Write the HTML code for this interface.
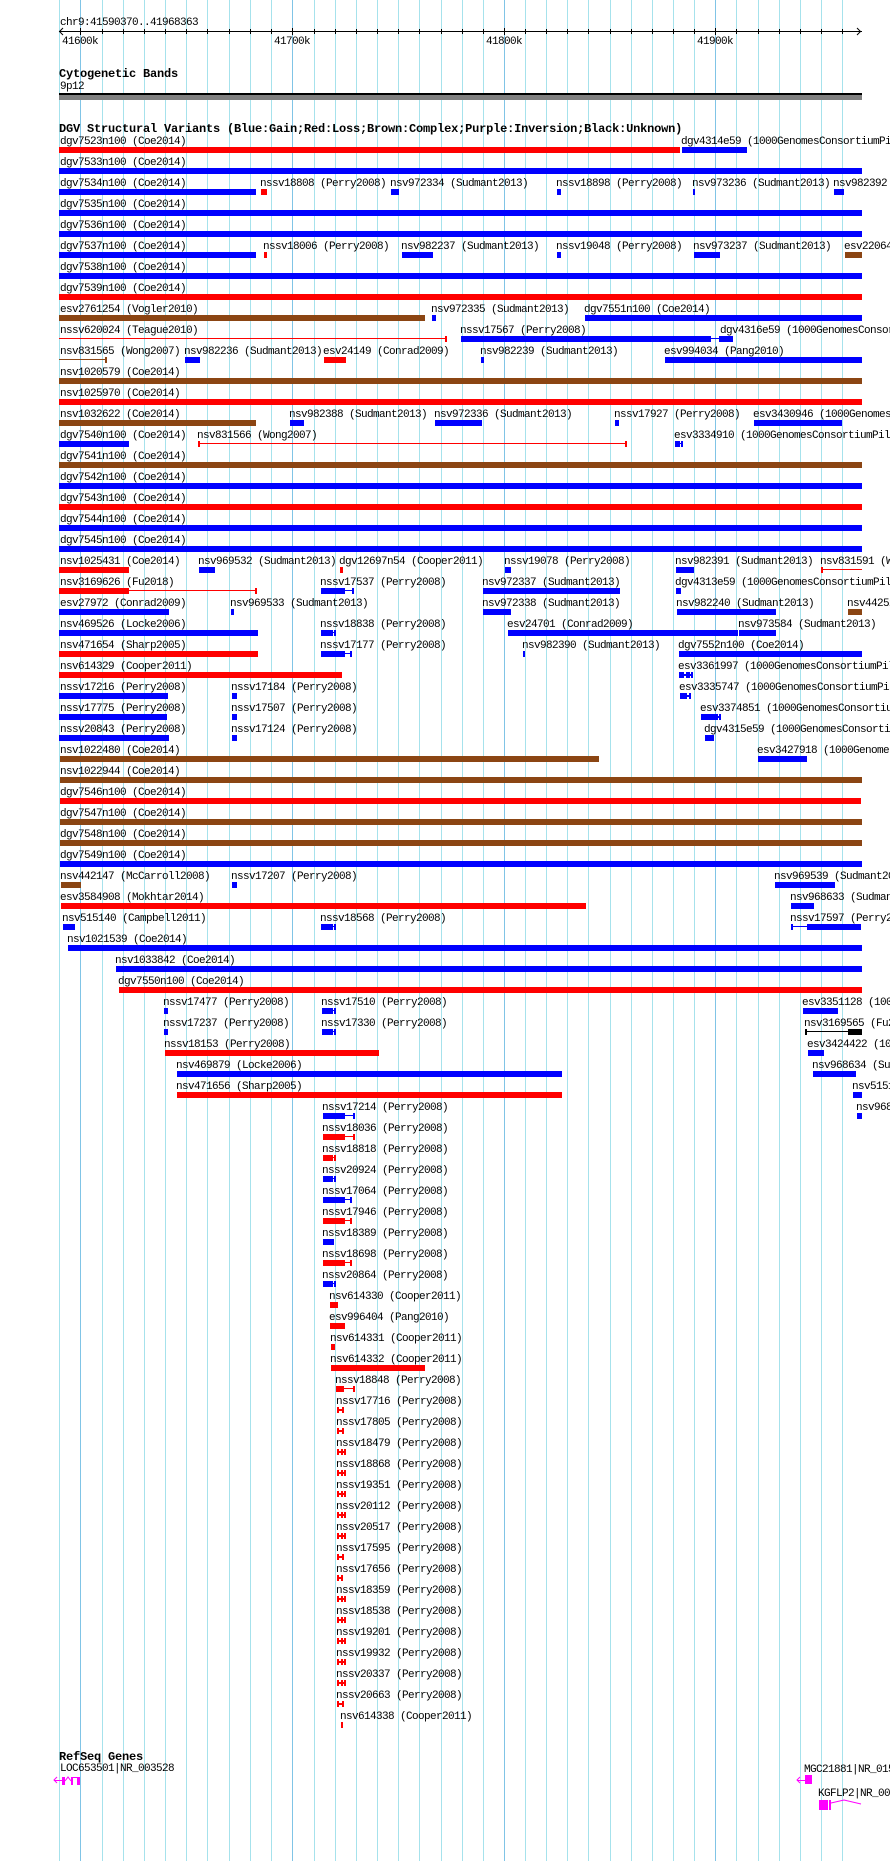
<!DOCTYPE html>
<html><head><meta charset="utf-8"><style>
html,body{margin:0;padding:0;background:#fff;width:890px;height:1861px;overflow:hidden}
svg{position:absolute;left:0;top:0}
text{font-family:"Liberation Mono","DejaVu Sans Mono",monospace;font-size:11px;letter-spacing:-0.6px;fill:#000}
text.t{font-weight:bold;font-size:12px;letter-spacing:-0.2px}
.r{fill:#f00}.b{fill:#00f}.n{fill:#8b4513}.k{fill:#000}.m{fill:#f0f}.gl{fill:#a6e2ec}.gm{fill:#80c4e6}
</style></head><body>
<svg width="890" height="1861" viewBox="0 0 890 1861" xmlns="http://www.w3.org/2000/svg" shape-rendering="crispEdges">
<!-- grid -->
<g class="gl">
<rect x="59" y="0" width="1" height="1861"/><rect x="102" y="0" width="1" height="1861"/><rect x="123" y="0" width="1" height="1861"/><rect x="144" y="0" width="1" height="1861"/><rect x="165" y="0" width="1" height="1861"/><rect x="186" y="0" width="1" height="1861"/><rect x="207" y="0" width="1" height="1861"/><rect x="229" y="0" width="1" height="1861"/><rect x="250" y="0" width="1" height="1861"/><rect x="271" y="0" width="1" height="1861"/>
<rect x="314" y="0" width="1" height="1861"/><rect x="335" y="0" width="1" height="1861"/><rect x="356" y="0" width="1" height="1861"/><rect x="377" y="0" width="1" height="1861"/><rect x="398" y="0" width="1" height="1861"/><rect x="419" y="0" width="1" height="1861"/><rect x="441" y="0" width="1" height="1861"/><rect x="462" y="0" width="1" height="1861"/><rect x="483" y="0" width="1" height="1861"/>
<rect x="525" y="0" width="1" height="1861"/><rect x="546" y="0" width="1" height="1861"/><rect x="567" y="0" width="1" height="1861"/><rect x="588" y="0" width="1" height="1861"/><rect x="610" y="0" width="1" height="1861"/><rect x="631" y="0" width="1" height="1861"/><rect x="652" y="0" width="1" height="1861"/><rect x="673" y="0" width="1" height="1861"/><rect x="694" y="0" width="1" height="1861"/>
<rect x="736" y="0" width="1" height="1861"/><rect x="758" y="0" width="1" height="1861"/><rect x="779" y="0" width="1" height="1861"/><rect x="800" y="0" width="1" height="1861"/><rect x="821" y="0" width="1" height="1861"/><rect x="842" y="0" width="1" height="1861"/>
</g>
<g class="gm">
<rect x="80" y="0" width="1" height="1861"/><rect x="292" y="0" width="1" height="1861"/><rect x="504" y="0" width="1" height="1861"/><rect x="715" y="0" width="1" height="1861"/>
</g>

<!-- ruler -->
<text x="60" y="25">chr9:41590370..41968363</text>
<rect class="k" x="59" y="31" width="803" height="1"/>
<g class="k">
<rect x="102" y="29" width="1" height="5"/><rect x="123" y="29" width="1" height="5"/><rect x="144" y="29" width="1" height="5"/><rect x="165" y="29" width="1" height="5"/><rect x="186" y="29" width="1" height="5"/><rect x="207" y="29" width="1" height="5"/><rect x="229" y="29" width="1" height="5"/><rect x="250" y="29" width="1" height="5"/><rect x="271" y="29" width="1" height="5"/>
<rect x="314" y="29" width="1" height="5"/><rect x="335" y="29" width="1" height="5"/><rect x="356" y="29" width="1" height="5"/><rect x="377" y="29" width="1" height="5"/><rect x="398" y="29" width="1" height="5"/><rect x="419" y="29" width="1" height="5"/><rect x="441" y="29" width="1" height="5"/><rect x="462" y="29" width="1" height="5"/><rect x="483" y="29" width="1" height="5"/>
<rect x="525" y="29" width="1" height="5"/><rect x="546" y="29" width="1" height="5"/><rect x="567" y="29" width="1" height="5"/><rect x="588" y="29" width="1" height="5"/><rect x="610" y="29" width="1" height="5"/><rect x="631" y="29" width="1" height="5"/><rect x="652" y="29" width="1" height="5"/><rect x="673" y="29" width="1" height="5"/><rect x="694" y="29" width="1" height="5"/>
<rect x="736" y="29" width="1" height="5"/><rect x="758" y="29" width="1" height="5"/><rect x="779" y="29" width="1" height="5"/><rect x="800" y="29" width="1" height="5"/><rect x="821" y="29" width="1" height="5"/><rect x="842" y="29" width="1" height="5"/>
<rect x="80" y="28" width="1" height="7"/><rect x="292" y="28" width="1" height="7"/><rect x="504" y="28" width="1" height="7"/><rect x="715" y="28" width="1" height="7"/>
</g>
<polyline points="63,28 59.5,31.5 63,35" fill="none" stroke="#000" stroke-width="1" shape-rendering="auto"/>
<polyline points="857,28 860.5,31.5 857,35" fill="none" stroke="#000" stroke-width="1" shape-rendering="auto"/>
<text x="62" y="44">41600k</text>
<text x="274" y="44">41700k</text>
<text x="486" y="44">41800k</text>
<text x="697" y="44">41900k</text>

<!-- cytoband -->
<text class="t" x="59" y="77">Cytogenetic Bands</text>
<text x="60" y="89">9p12</text>
<rect class="k" x="59" y="93" width="803" height="2"/>
<rect x="59" y="95" width="803" height="5" fill="#808080"/>

<!-- DGV -->
<text class="t" x="59" y="132">DGV Structural Variants (Blue:Gain;Red:Loss;Brown:Complex;Purple:Inversion;Black:Unknown)</text>

<g transform="translate(0,147)">
<rect class="r" x="59" y="0" width="621" height="6"/><rect class="b" x="682" y="0" width="65" height="6"/>
<text x="60" y="-3">dgv7523n100 (Coe2014)</text><text x="681" y="-3">dgv4314e59 (1000GenomesConsortiumPilotProject)</text></g>
<g transform="translate(0,168)">
<rect class="b" x="59" y="0" width="803" height="6"/><text x="60" y="-3">dgv7533n100 (Coe2014)</text></g>
<g transform="translate(0,189)">
<rect class="b" x="59" y="0" width="197" height="6"/><rect class="r" x="261" y="0" width="6" height="6"/><rect class="b" x="391" y="0" width="8" height="6"/><rect class="b" x="557" y="0" width="4" height="6"/><rect class="b" x="693" y="0" width="2" height="6"/><rect class="b" x="834" y="0" width="10" height="6"/>
<text x="60" y="-3">dgv7534n100 (Coe2014)</text><text x="260" y="-3">nssv18808 (Perry2008)</text><text x="390" y="-3">nsv972334 (Sudmant2013)</text><text x="556" y="-3">nssv18898 (Perry2008)</text><text x="692" y="-3">nsv973236 (Sudmant2013)</text><text x="833" y="-3">nsv982392 (Sudmant2013)</text></g>
<g transform="translate(0,210)">
<rect class="b" x="59" y="0" width="803" height="6"/><text x="60" y="-3">dgv7535n100 (Coe2014)</text></g>
<g transform="translate(0,231)">
<rect class="b" x="59" y="0" width="803" height="6"/><text x="60" y="-3">dgv7536n100 (Coe2014)</text></g>
<g transform="translate(0,252)">
<rect class="b" x="59" y="0" width="197" height="6"/><rect class="r" x="264" y="0" width="3" height="6"/><rect class="b" x="402" y="0" width="31" height="6"/><rect class="b" x="557" y="0" width="4" height="6"/><rect class="b" x="694" y="0" width="26" height="6"/><rect class="n" x="845" y="0" width="17" height="6"/>
<text x="60" y="-3">dgv7537n100 (Coe2014)</text><text x="263" y="-3">nssv18006 (Perry2008)</text><text x="401" y="-3">nsv982237 (Sudmant2013)</text><text x="556" y="-3">nssv19048 (Perry2008)</text><text x="693" y="-3">nsv973237 (Sudmant2013)</text><text x="844" y="-3">esv2206460 (Conrad2009)</text></g>
<g transform="translate(0,273)">
<rect class="b" x="59" y="0" width="803" height="6"/><text x="60" y="-3">dgv7538n100 (Coe2014)</text></g>
<g transform="translate(0,294)">
<rect class="r" x="59" y="0" width="803" height="6"/><text x="60" y="-3">dgv7539n100 (Coe2014)</text></g>
<g transform="translate(0,315)">
<rect class="n" x="59" y="0" width="366" height="6"/><rect class="b" x="432" y="0" width="4" height="6"/><rect class="b" x="585" y="0" width="277" height="6"/>
<text x="60" y="-3">esv2761254 (Vogler2010)</text><text x="431" y="-3">nsv972335 (Sudmant2013)</text><text x="584" y="-3">dgv7551n100 (Coe2014)</text></g>
<g transform="translate(0,336)">
<rect class="r" x="59" y="2" width="388" height="1"/><rect class="r" x="445" y="0" width="2" height="6"/><rect class="b" x="461" y="0" width="250" height="6"/><rect class="b" x="711" y="2" width="8" height="1"/><rect class="b" x="719" y="0" width="14" height="6"/>
<text x="60" y="-3">nssv620024 (Teague2010)</text><text x="460" y="-3">nssv17567 (Perry2008)</text><text x="720" y="-3">dgv4316e59 (1000GenomesConsortiumPilotProject)</text></g>
<g transform="translate(0,357)">
<rect class="n" x="59" y="2" width="47" height="1"/><rect class="n" x="105" y="0" width="2" height="6"/><rect class="b" x="185" y="0" width="15" height="6"/><rect class="r" x="324" y="0" width="22" height="6"/><rect class="b" x="481" y="0" width="3" height="6"/><rect class="b" x="665" y="0" width="197" height="6"/>
<text x="60" y="-3">nsv831565 (Wong2007)</text><text x="184" y="-3">nsv982236 (Sudmant2013)</text><text x="323" y="-3">esv24149 (Conrad2009)</text><text x="480" y="-3">nsv982239 (Sudmant2013)</text><text x="664" y="-3">esv994034 (Pang2010)</text></g>
<g transform="translate(0,378)">
<rect class="n" x="59" y="0" width="803" height="6"/><text x="60" y="-3">nsv1020579 (Coe2014)</text></g>
<g transform="translate(0,399)">
<rect class="r" x="59" y="0" width="803" height="6"/><text x="60" y="-3">nsv1025970 (Coe2014)</text></g>
<g transform="translate(0,420)">
<rect class="n" x="59" y="0" width="197" height="6"/><rect class="b" x="290" y="0" width="14" height="6"/><rect class="b" x="435" y="0" width="47" height="6"/><rect class="b" x="615" y="0" width="4" height="6"/><rect class="b" x="754" y="0" width="86" height="6"/><rect class="b" x="840" y="0" width="2" height="6"/>
<text x="60" y="-3">nsv1032622 (Coe2014)</text><text x="289" y="-3">nsv982388 (Sudmant2013)</text><text x="434" y="-3">nsv972336 (Sudmant2013)</text><text x="614" y="-3">nssv17927 (Perry2008)</text><text x="753" y="-3">esv3430946 (1000GenomesConsortiumPilotProject)</text></g>
<g transform="translate(0,441)">
<rect class="b" x="59" y="0" width="70" height="6"/><rect class="r" x="198" y="0" width="2" height="6"/><rect class="r" x="198" y="2" width="428" height="1"/><rect class="r" x="625" y="0" width="2" height="6"/><rect class="b" x="675" y="0" width="5" height="6"/><rect class="b" x="680" y="2" width="1" height="1"/><rect class="b" x="681" y="0" width="2" height="6"/>
<text x="60" y="-3">dgv7540n100 (Coe2014)</text><text x="197" y="-3">nsv831566 (Wong2007)</text><text x="674" y="-3">esv3334910 (1000GenomesConsortiumPilotProject)</text></g>
<g transform="translate(0,462)">
<rect class="n" x="59" y="0" width="803" height="6"/><text x="60" y="-3">dgv7541n100 (Coe2014)</text></g>
<g transform="translate(0,483)">
<rect class="b" x="59" y="0" width="803" height="6"/><text x="60" y="-3">dgv7542n100 (Coe2014)</text></g>
<g transform="translate(0,504)">
<rect class="r" x="59" y="0" width="803" height="6"/><text x="60" y="-3">dgv7543n100 (Coe2014)</text></g>
<g transform="translate(0,525)">
<rect class="b" x="59" y="0" width="803" height="6"/><text x="60" y="-3">dgv7544n100 (Coe2014)</text></g>
<g transform="translate(0,546)">
<rect class="b" x="59" y="0" width="803" height="6"/><text x="60" y="-3">dgv7545n100 (Coe2014)</text></g>
<g transform="translate(0,567)">
<rect class="r" x="59" y="0" width="70" height="6"/><rect class="b" x="199" y="0" width="16" height="6"/><rect class="r" x="340" y="0" width="3" height="6"/><rect class="b" x="505" y="0" width="6" height="6"/><rect class="b" x="676" y="0" width="18" height="6"/><rect class="r" x="821" y="0" width="2" height="6"/><rect class="r" x="821" y="2" width="41" height="1"/>
<text x="60" y="-3">nsv1025431 (Coe2014)</text><text x="198" y="-3">nsv969532 (Sudmant2013)</text><text x="339" y="-3">dgv12697n54 (Cooper2011)</text><text x="504" y="-3">nssv19078 (Perry2008)</text><text x="675" y="-3">nsv982391 (Sudmant2013)</text><text x="820" y="-3">nsv831591 (Wong2007)</text></g>
<g transform="translate(0,588)">
<rect class="r" x="59" y="0" width="70" height="6"/><rect class="r" x="129" y="2" width="127" height="1"/><rect class="r" x="255" y="0" width="2" height="6"/><rect class="b" x="321" y="0" width="24" height="6"/><rect class="b" x="345" y="2" width="9" height="1"/><rect class="b" x="352" y="0" width="2" height="6"/><rect class="b" x="483" y="0" width="137" height="6"/><rect class="b" x="676" y="0" width="5" height="6"/>
<text x="60" y="-3">nsv3169626 (Fu2018)</text><text x="320" y="-3">nssv17537 (Perry2008)</text><text x="482" y="-3">nsv972337 (Sudmant2013)</text><text x="675" y="-3">dgv4313e59 (1000GenomesConsortiumPilotProject)</text></g>
<g transform="translate(0,609)">
<rect class="b" x="59" y="0" width="110" height="6"/><rect class="b" x="231" y="0" width="3" height="6"/><rect class="b" x="483" y="0" width="28" height="6"/><rect class="b" x="677" y="0" width="99" height="6"/><rect class="n" x="848" y="0" width="14" height="6"/>
<text x="60" y="-3">esv27972 (Conrad2009)</text><text x="230" y="-3">nsv969533 (Sudmant2013)</text><text x="482" y="-3">nsv972338 (Sudmant2013)</text><text x="676" y="-3">nsv982240 (Sudmant2013)</text><text x="847" y="-3">nsv442525 (McCarroll2008)</text></g>
<g transform="translate(0,630)">
<rect class="b" x="59" y="0" width="199" height="6"/><rect class="b" x="321" y="0" width="12" height="6"/><rect class="b" x="333" y="2" width="2" height="1"/><rect class="b" x="334" y="0" width="2" height="6"/><rect class="b" x="508" y="0" width="230" height="6"/><rect class="b" x="739" y="0" width="37" height="6"/>
<text x="60" y="-3">nsv469526 (Locke2006)</text><text x="320" y="-3">nssv18838 (Perry2008)</text><text x="507" y="-3">esv24701 (Conrad2009)</text><text x="738" y="-3">nsv973584 (Sudmant2013)</text></g>
<g transform="translate(0,651)">
<rect class="r" x="59" y="0" width="199" height="6"/><rect class="b" x="321" y="0" width="24" height="6"/><rect class="b" x="345" y="2" width="6" height="1"/><rect class="b" x="350" y="0" width="2" height="6"/><rect class="b" x="523" y="0" width="2" height="6"/><rect class="b" x="679" y="0" width="183" height="6"/>
<text x="60" y="-3">nsv471654 (Sharp2005)</text><text x="320" y="-3">nssv17177 (Perry2008)</text><text x="522" y="-3">nsv982390 (Sudmant2013)</text><text x="678" y="-3">dgv7552n100 (Coe2014)</text></g>
<g transform="translate(0,672)">
<rect class="r" x="59" y="0" width="283" height="6"/><rect class="b" x="679" y="0" width="5" height="6"/><rect class="b" x="684" y="2" width="2" height="2"/><rect class="b" x="686" y="0" width="4" height="6"/><rect class="b" x="690" y="2" width="1" height="2"/><rect class="b" x="691" y="0" width="2" height="6"/>
<text x="60" y="-3">nsv614329 (Cooper2011)</text><text x="678" y="-3">esv3361997 (1000GenomesConsortiumPilotProject)</text></g>
<g transform="translate(0,693)">
<rect class="b" x="59" y="0" width="109" height="6"/><rect class="b" x="232" y="0" width="5" height="6"/><rect class="b" x="680" y="0" width="7" height="6"/><rect class="b" x="687" y="2" width="2" height="2"/><rect class="b" x="689" y="0" width="2" height="6"/>
<text x="60" y="-3">nssv17216 (Perry2008)</text><text x="231" y="-3">nssv17184 (Perry2008)</text><text x="679" y="-3">esv3335747 (1000GenomesConsortiumPilotProject)</text></g>
<g transform="translate(0,714)">
<rect class="b" x="59" y="0" width="108" height="6"/><rect class="b" x="232" y="0" width="5" height="6"/><rect class="b" x="701" y="0" width="17" height="6"/><rect class="b" x="718" y="2" width="1" height="2"/><rect class="b" x="719" y="0" width="2" height="6"/>
<text x="60" y="-3">nssv17775 (Perry2008)</text><text x="231" y="-3">nssv17507 (Perry2008)</text><text x="700" y="-3">esv3374851 (1000GenomesConsortiumPilotProject)</text></g>
<g transform="translate(0,735)">
<rect class="b" x="59" y="0" width="110" height="6"/><rect class="b" x="232" y="0" width="5" height="6"/><rect class="b" x="705" y="0" width="9" height="6"/>
<text x="60" y="-3">nssv20843 (Perry2008)</text><text x="231" y="-3">nssv17124 (Perry2008)</text><text x="704" y="-3">dgv4315e59 (1000GenomesConsortiumPilotProject)</text></g>
<g transform="translate(0,756)">
<rect class="n" x="60" y="0" width="539" height="6"/><rect class="b" x="758" y="0" width="47" height="6"/><rect class="b" x="805" y="0" width="2" height="6"/>
<text x="60" y="-3">nsv1022480 (Coe2014)</text><text x="757" y="-3">esv3427918 (1000GenomesConsortiumPilotProject)</text></g>
<g transform="translate(0,777)">
<rect class="n" x="60" y="0" width="802" height="6"/><text x="60" y="-3">nsv1022944 (Coe2014)</text></g>
<g transform="translate(0,798)">
<rect class="r" x="60" y="0" width="801" height="6"/><text x="60" y="-3">dgv7546n100 (Coe2014)</text></g>
<g transform="translate(0,819)">
<rect class="n" x="60" y="0" width="802" height="6"/><text x="60" y="-3">dgv7547n100 (Coe2014)</text></g>
<g transform="translate(0,840)">
<rect class="n" x="60" y="0" width="802" height="6"/><text x="60" y="-3">dgv7548n100 (Coe2014)</text></g>
<g transform="translate(0,861)">
<rect class="b" x="60" y="0" width="802" height="6"/><text x="60" y="-3">dgv7549n100 (Coe2014)</text></g>
<g transform="translate(0,882)">
<rect class="n" x="61" y="0" width="20" height="6"/><rect class="b" x="232" y="0" width="5" height="6"/><rect class="b" x="775" y="0" width="60" height="6"/>
<text x="60" y="-3">nsv442147 (McCarroll2008)</text><text x="231" y="-3">nssv17207 (Perry2008)</text><text x="774" y="-3">nsv969539 (Sudmant2013)</text></g>
<g transform="translate(0,903)">
<rect class="r" x="61" y="0" width="525" height="6"/><rect class="b" x="791" y="0" width="23" height="6"/>
<text x="60" y="-3">esv3584908 (Mokhtar2014)</text><text x="790" y="-3">nsv968633 (Sudmant2013)</text></g>
<g transform="translate(0,924)">
<rect class="b" x="63" y="0" width="12" height="6"/><rect class="b" x="321" y="0" width="12" height="6"/><rect class="b" x="333" y="2" width="2" height="1"/><rect class="b" x="334" y="0" width="2" height="6"/><rect class="b" x="791" y="0" width="2" height="6"/><rect class="b" x="791" y="2" width="16" height="1"/><rect class="b" x="807" y="0" width="54" height="6"/>
<text x="62" y="-3">nsv515140 (Campbell2011)</text><text x="320" y="-3">nssv18568 (Perry2008)</text><text x="790" y="-3">nssv17597 (Perry2008)</text></g>
<g transform="translate(0,945)">
<rect class="b" x="68" y="0" width="794" height="6"/><text x="67" y="-3">nsv1021539 (Coe2014)</text></g>
<g transform="translate(0,966)">
<rect class="b" x="116" y="0" width="746" height="6"/><text x="115" y="-3">nsv1033842 (Coe2014)</text></g>
<g transform="translate(0,987)">
<rect class="r" x="119" y="0" width="743" height="6"/><text x="118" y="-3">dgv7550n100 (Coe2014)</text></g>
<g transform="translate(0,1008)">
<rect class="b" x="164" y="0" width="4" height="6"/><rect class="b" x="322" y="0" width="11" height="6"/><rect class="b" x="333" y="2" width="2" height="1"/><rect class="b" x="334" y="0" width="2" height="6"/><rect class="b" x="803" y="0" width="33" height="6"/><rect class="b" x="836" y="0" width="2" height="6"/>
<text x="163" y="-3">nssv17477 (Perry2008)</text><text x="321" y="-3">nssv17510 (Perry2008)</text><text x="802" y="-3">esv3351128 (1000GenomesConsortiumPilotProject)</text></g>
<g transform="translate(0,1029)">
<rect class="b" x="164" y="0" width="4" height="6"/><rect class="b" x="322" y="0" width="11" height="6"/><rect class="b" x="333" y="2" width="2" height="1"/><rect class="b" x="334" y="0" width="2" height="6"/><rect class="k" x="805" y="0" width="2" height="6"/><rect class="k" x="805" y="2" width="43" height="1"/><rect class="k" x="848" y="0" width="14" height="6"/>
<text x="163" y="-3">nssv17237 (Perry2008)</text><text x="321" y="-3">nssv17330 (Perry2008)</text><text x="804" y="-3">nsv3169565 (Fu2018)</text></g>
<g transform="translate(0,1050)">
<rect class="r" x="165" y="0" width="214" height="6"/><rect class="b" x="808" y="0" width="14" height="6"/><rect class="b" x="822" y="0" width="2" height="6"/>
<text x="164" y="-3">nssv18153 (Perry2008)</text><text x="807" y="-3">esv3424422 (1000GenomesConsortiumPilotProject)</text></g>
<g transform="translate(0,1071)">
<rect class="b" x="177" y="0" width="385" height="6"/><rect class="b" x="813" y="0" width="43" height="6"/>
<text x="176" y="-3">nsv469879 (Locke2006)</text><text x="812" y="-3">nsv968634 (Sudmant2013)</text></g>
<g transform="translate(0,1092)">
<rect class="r" x="177" y="0" width="385" height="6"/><rect class="b" x="853" y="0" width="9" height="6"/>
<text x="176" y="-3">nsv471656 (Sharp2005)</text><text x="852" y="-3">nsv515160 (Campbell2011)</text></g>
<g transform="translate(0,1113)">
<rect class="b" x="323" y="0" width="22" height="6"/><rect class="b" x="345" y="2" width="8" height="1"/><rect class="b" x="353" y="0" width="2" height="6"/><rect class="b" x="857" y="0" width="5" height="6"/>
<text x="322" y="-3">nssv17214 (Perry2008)</text><text x="856" y="-3">nsv968635 (Sudmant2013)</text></g>
<g transform="translate(0,1134)">
<rect class="r" x="323" y="0" width="22" height="6"/><rect class="r" x="345" y="2" width="8" height="1"/><rect class="r" x="353" y="0" width="2" height="6"/>
<text x="322" y="-3">nssv18036 (Perry2008)</text></g>
<g transform="translate(0,1155)">
<rect class="r" x="323" y="0" width="10" height="6"/><rect class="r" x="333" y="2" width="1" height="1"/><rect class="r" x="334" y="0" width="2" height="6"/>
<text x="322" y="-3">nssv18818 (Perry2008)</text></g>
<g transform="translate(0,1176)">
<rect class="b" x="323" y="0" width="10" height="6"/><rect class="b" x="333" y="2" width="1" height="1"/><rect class="b" x="334" y="0" width="2" height="6"/>
<text x="322" y="-3">nssv20924 (Perry2008)</text></g>
<g transform="translate(0,1197)">
<rect class="b" x="323" y="0" width="22" height="6"/><rect class="b" x="345" y="2" width="5" height="1"/><rect class="b" x="350" y="0" width="2" height="6"/>
<text x="322" y="-3">nssv17064 (Perry2008)</text></g>
<g transform="translate(0,1218)">
<rect class="r" x="323" y="0" width="22" height="6"/><rect class="r" x="345" y="2" width="5" height="1"/><rect class="r" x="350" y="0" width="2" height="6"/>
<text x="322" y="-3">nssv17946 (Perry2008)</text></g>
<g transform="translate(0,1239)">
<rect class="b" x="323" y="0" width="11" height="6"/>
<text x="322" y="-3">nssv18389 (Perry2008)</text></g>
<g transform="translate(0,1260)">
<rect class="r" x="323" y="0" width="22" height="6"/><rect class="r" x="345" y="2" width="5" height="1"/><rect class="r" x="350" y="0" width="2" height="6"/>
<text x="322" y="-3">nssv18698 (Perry2008)</text></g>
<g transform="translate(0,1281)">
<rect class="b" x="323" y="0" width="10" height="6"/><rect class="b" x="333" y="2" width="1" height="1"/><rect class="b" x="334" y="0" width="2" height="6"/>
<text x="322" y="-3">nssv20864 (Perry2008)</text></g>
<g transform="translate(0,1302)">
<rect class="r" x="330" y="0" width="8" height="6"/><text x="329" y="-3">nsv614330 (Cooper2011)</text></g>
<g transform="translate(0,1323)">
<rect class="r" x="330" y="0" width="15" height="6"/><text x="329" y="-3">esv996404 (Pang2010)</text></g>
<g transform="translate(0,1344)">
<rect class="r" x="331" y="0" width="4" height="6"/><text x="330" y="-3">nsv614331 (Cooper2011)</text></g>
<g transform="translate(0,1365)">
<rect class="r" x="331" y="0" width="94" height="6"/><text x="330" y="-3">nsv614332 (Cooper2011)</text></g>
<g transform="translate(0,1386)">
<rect class="r" x="336" y="0" width="8" height="6"/><rect class="r" x="344" y="2" width="9" height="1"/><rect class="r" x="353" y="0" width="2" height="6"/>
<text x="335" y="-3">nssv18848 (Perry2008)</text></g>

<g class="r">
<g transform="translate(0,1407)"><rect x="337" y="0" width="2" height="6"/><rect x="339" y="2" width="3" height="2"/><rect x="342" y="0" width="2" height="6"/></g>
<g transform="translate(0,1428)"><rect x="337" y="0" width="2" height="6"/><rect x="339" y="2" width="3" height="2"/><rect x="342" y="0" width="2" height="6"/></g>
<g transform="translate(0,1449)"><rect x="337" y="0" width="2" height="6"/><rect x="339" y="2" width="7" height="2"/><rect x="341" y="0" width="2" height="6"/><rect x="344" y="0" width="2" height="6"/></g>
<g transform="translate(0,1470)"><rect x="337" y="0" width="2" height="6"/><rect x="339" y="2" width="7" height="2"/><rect x="341" y="0" width="2" height="6"/><rect x="344" y="0" width="2" height="6"/></g>
<g transform="translate(0,1491)"><rect x="337" y="0" width="2" height="6"/><rect x="339" y="2" width="7" height="2"/><rect x="341" y="0" width="2" height="6"/><rect x="344" y="0" width="2" height="6"/></g>
<g transform="translate(0,1512)"><rect x="337" y="0" width="2" height="6"/><rect x="339" y="2" width="7" height="2"/><rect x="341" y="0" width="2" height="6"/><rect x="344" y="0" width="2" height="6"/></g>
<g transform="translate(0,1533)"><rect x="337" y="0" width="2" height="6"/><rect x="339" y="2" width="7" height="2"/><rect x="341" y="0" width="2" height="6"/><rect x="344" y="0" width="2" height="6"/></g>
<g transform="translate(0,1554)"><rect x="337" y="0" width="2" height="6"/><rect x="339" y="2" width="3" height="2"/><rect x="342" y="0" width="2" height="6"/></g>
<g transform="translate(0,1575)"><rect x="337" y="0" width="2" height="6"/><rect x="339" y="2" width="2" height="2"/><rect x="341" y="0" width="2" height="6"/></g>
<g transform="translate(0,1596)"><rect x="337" y="0" width="2" height="6"/><rect x="339" y="2" width="7" height="2"/><rect x="341" y="0" width="2" height="6"/><rect x="344" y="0" width="2" height="6"/></g>
<g transform="translate(0,1617)"><rect x="337" y="0" width="2" height="6"/><rect x="339" y="2" width="7" height="2"/><rect x="341" y="0" width="2" height="6"/><rect x="344" y="0" width="2" height="6"/></g>
<g transform="translate(0,1638)"><rect x="337" y="0" width="2" height="6"/><rect x="339" y="2" width="7" height="2"/><rect x="341" y="0" width="2" height="6"/><rect x="344" y="0" width="2" height="6"/></g>
<g transform="translate(0,1659)"><rect x="337" y="0" width="2" height="6"/><rect x="339" y="2" width="7" height="2"/><rect x="341" y="0" width="2" height="6"/><rect x="344" y="0" width="2" height="6"/></g>
<g transform="translate(0,1680)"><rect x="337" y="0" width="2" height="6"/><rect x="339" y="2" width="7" height="2"/><rect x="341" y="0" width="2" height="6"/><rect x="344" y="0" width="2" height="6"/></g>
<g transform="translate(0,1701)"><rect x="337" y="0" width="2" height="6"/><rect x="339" y="2" width="3" height="2"/><rect x="342" y="0" width="2" height="6"/></g>
<rect x="341" y="1722" width="2" height="6"/>
</g>
<text x="336" y="1404">nssv17716 (Perry2008)</text>
<text x="336" y="1425">nssv17805 (Perry2008)</text>
<text x="336" y="1446">nssv18479 (Perry2008)</text>
<text x="336" y="1467">nssv18868 (Perry2008)</text>
<text x="336" y="1488">nssv19351 (Perry2008)</text>
<text x="336" y="1509">nssv20112 (Perry2008)</text>
<text x="336" y="1530">nssv20517 (Perry2008)</text>
<text x="336" y="1551">nssv17595 (Perry2008)</text>
<text x="336" y="1572">nssv17656 (Perry2008)</text>
<text x="336" y="1593">nssv18359 (Perry2008)</text>
<text x="336" y="1614">nssv18538 (Perry2008)</text>
<text x="336" y="1635">nssv19201 (Perry2008)</text>
<text x="336" y="1656">nssv19932 (Perry2008)</text>
<text x="336" y="1677">nssv20337 (Perry2008)</text>
<text x="336" y="1698">nssv20663 (Perry2008)</text>
<text x="340" y="1719">nsv614338 (Cooper2011)</text>

<!-- RefSeq -->
<text class="t" x="59" y="1760">RefSeq Genes</text>
<text x="60" y="1771">LOC653501|NR_003528</text>
<g class="m">
<rect x="54" y="1780" width="8" height="1"/>
<rect x="62" y="1777" width="3" height="8"/>
<rect x="71" y="1777" width="2" height="8"/>
<rect x="73" y="1777" width="4" height="1"/>
<rect x="77" y="1777" width="3" height="8"/>
</g>
<polyline points="57,1777 54,1780 57,1783" fill="none" stroke="#f0f" stroke-width="1" shape-rendering="auto"/>
<polyline points="65,1781 68,1777 71,1781" fill="none" stroke="#f0f" stroke-width="1" shape-rendering="auto"/>

<text x="804" y="1772">MGC21881|NR_015400</text>
<g class="m">
<rect x="797" y="1780" width="8" height="1"/>
<rect x="805" y="1775" width="7" height="9"/>
<rect x="819" y="1800" width="9" height="10"/>
<rect x="829" y="1800" width="2" height="10"/>
</g>
<polyline points="800,1777 797,1780 800,1783" fill="none" stroke="#f0f" stroke-width="1" shape-rendering="auto"/>
<polyline points="831,1803 844,1800 861,1804" fill="none" stroke="#f0f" stroke-width="1" shape-rendering="auto"/>
<text x="818" y="1796">KGFLP2|NR_003670</text>
</svg>
</body></html>
